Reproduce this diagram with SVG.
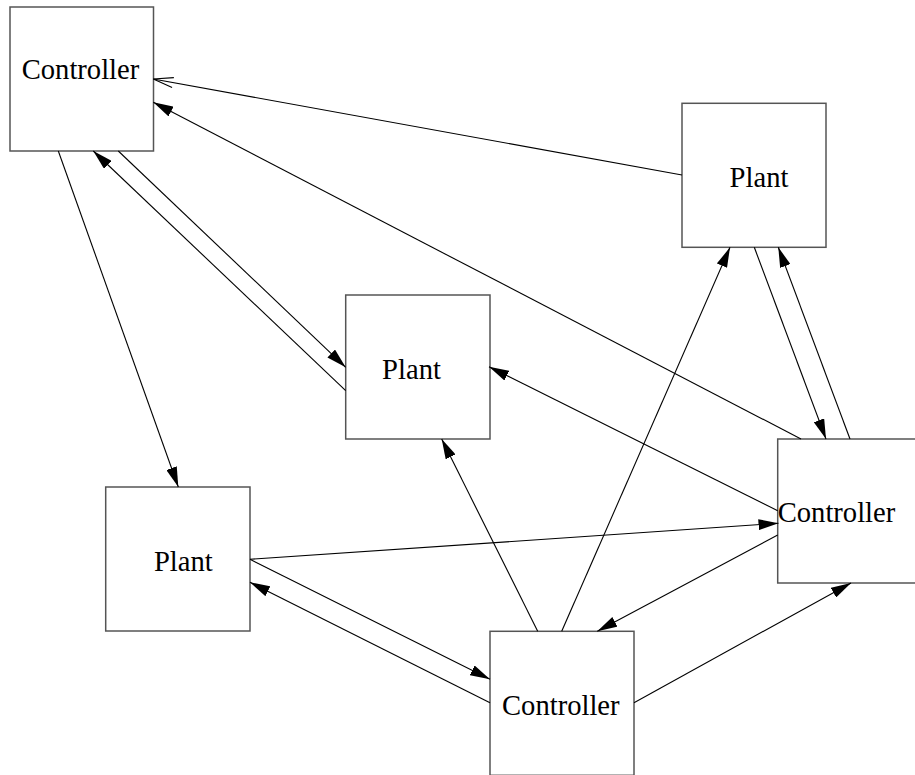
<svg xmlns="http://www.w3.org/2000/svg" width="915" height="775" viewBox="0 0 915 775">
<style>
.box{fill:#fff;stroke:#555;stroke-width:1.5}
.lbl{font-family:"Liberation Serif","Times New Roman",serif;font-size:28.6px;fill:#000;text-anchor:middle}
.e{stroke:#000;stroke-width:1.1;fill:none;marker-end:url(#fa)}
.o{stroke:#000;stroke-width:1.1;fill:none;marker-end:url(#oa)}
</style>
<defs>
<marker id="fa" viewBox="0 0 20 11" refX="20" refY="5.5" markerWidth="20" markerHeight="11" markerUnits="userSpaceOnUse" orient="auto">
<path d="M0,0 L20,5.5 L0,11 z" fill="#000"/>
</marker>
<marker id="oa" viewBox="-1 -1 22 12" refX="20" refY="5" markerWidth="22" markerHeight="12" markerUnits="userSpaceOnUse" orient="auto">
<path d="M0,0 L20,5 L0,10" fill="none" stroke="#000" stroke-width="1.1"/>
</marker>
</defs>
<rect width="915" height="775" fill="#fff"/>
<g id="nodes">
<g id="controller1"><rect class="box" x="10" y="7" width="143.5" height="144"/><text class="lbl" x="80.5" y="79.3">Controller</text></g>
<g id="plant1"><rect class="box" x="682" y="103.3" width="144" height="144"/><text class="lbl" x="759" y="187.3">Plant</text></g>
<g id="plant2"><rect class="box" x="345.7" y="295" width="144.3" height="144"/><text class="lbl" x="411.5" y="378.7">Plant</text></g>
<g id="controller2"><rect class="box" x="777.7" y="439" width="144" height="144"/><text class="lbl" x="836.5" y="522.3">Controller</text></g>
<g id="plant3"><rect class="box" x="105.7" y="487" width="144.3" height="144"/><text class="lbl" x="183.3" y="570.7">Plant</text></g>
<g id="controller3"><rect class="box" x="490" y="631.3" width="144" height="144"/><text class="lbl" x="560.8" y="715.3">Controller</text></g>
</g>
<g id="connectors">
<line class="o" x1="682" y1="175" x2="153.3" y2="79"/>
<line class="e" x1="801" y1="439" x2="153.3" y2="102.3"/>
<line class="e" x1="345.7" y1="390.7" x2="93.3" y2="151"/>
<line class="e" x1="118.3" y1="151" x2="345.7" y2="367.3"/>
<line class="e" x1="58.3" y1="151" x2="178.3" y2="487"/>
<line class="e" x1="754.3" y1="247.3" x2="826" y2="439"/>
<line class="e" x1="850" y1="439" x2="778.3" y2="247.3"/>
<line class="e" x1="561.7" y1="631.3" x2="730" y2="247.3"/>
<line class="e" x1="777.7" y1="510.7" x2="489" y2="366.7"/>
<line class="e" x1="537.7" y1="631.3" x2="441.7" y2="439"/>
<line class="e" x1="250" y1="559.3" x2="778.5" y2="523.3"/>
<line class="e" x1="777.7" y1="535" x2="597.3" y2="631.3"/>
<line class="e" x1="634" y1="702.7" x2="851" y2="583"/>
<line class="e" x1="250" y1="559.3" x2="490" y2="679.3"/>
<line class="e" x1="490" y1="702.7" x2="250" y2="582.3"/>
</g>
</svg>
